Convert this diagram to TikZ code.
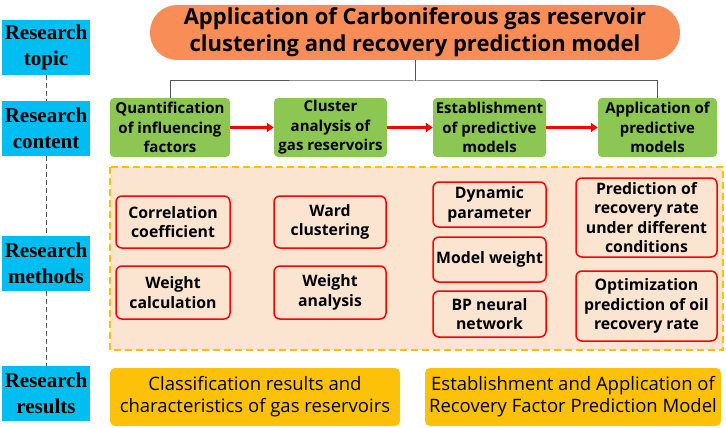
\documentclass[tikz,border=0pt]{standalone}
\usepackage{fontspec}
\setmainfont{Open Sans}
\newfontfamily\sidefont{Liberation Serif}
\usepackage{tikz}
\usetikzlibrary{positioning}
\usetikzlibrary{arrows.meta}

\definecolor{sidecyan}{HTML}{00BEF2}
\definecolor{topicorange}{HTML}{F98D57}
\definecolor{stepgreen}{HTML}{8CC653}
\definecolor{peach}{HTML}{FBE5D0}
\definecolor{gold}{HTML}{FFC000}
\definecolor{resgold}{HTML}{FDC10A}
\definecolor{linegray}{HTML}{555555}

\tikzset{
  side/.style={fill=sidecyan, text=black, align=center, inner sep=0pt,
    font=\sidefont\bfseries\fontsize{21}{26}\selectfont,
    minimum width=88pt, minimum height=55pt},
  topic/.style={fill=topicorange, rounded corners=27pt, align=center,
    font=\bfseries\fontsize{22}{27}\selectfont,
    minimum width=530pt, minimum height=55pt, inner sep=0pt},
  content/.style={fill=stepgreen, rounded corners=4pt, align=center,
    font=\bfseries\fontsize{15}{19.5}\selectfont,
    minimum height=59pt, inner sep=0pt},
  method/.style={draw=red, line width=1.5pt, fill=peach, rounded corners=6pt,
    align=center, font=\bfseries\fontsize{15.8}{19.5}\selectfont, inner sep=0pt},
  result/.style={fill=resgold, rounded corners=5pt, align=center,
    font=\fontsize{18.5}{22}\selectfont, minimum height=58pt, inner sep=0pt},
  flow/.style={red, line width=2.5pt, -{Triangle[length=7pt,width=9pt]}},
  tree/.style={linegray, line width=1pt},
  guide/.style={linegray, line width=1pt, dash pattern=on 5pt off 3pt}
}

\begin{document}
\begin{tikzpicture}[x=1pt,y=-1pt]

    \useasboundingbox (0,0) rectangle (726,428);

    % side labels
    \node[side] (topicL)   at (46,47.5)  {Research\\topic};
    \node[side] (contentL) at (46,128.5) {Research\\content};
    \node[side] (methodL)  at (46,263.5) {Research\\methods};
    \node[side] (resultL)  at (46,393.5) {Research\\results};

    \draw[guide] (topicL) -- (contentL);
    \draw[guide] (contentL) -- (methodL);
    \draw[guide] (methodL) -- (resultL);

    % title
    \node[topic] (title) at (415,32.5)
        {Application of Carboniferous gas reservoir\\clustering and recovery prediction model};

    % research content
    \node[content, minimum width=120pt] (C1) at (170,127.5)   {Quantification\\of influencing\\factors};
    \node[content, minimum width=113pt] (C2) at (330.5,127.5) {Cluster\\analysis of\\gas reservoirs};
    \node[content, minimum width=113pt] (C3) at (489.5,127.5) {Establishment\\of predictive\\models};
    \node[content, minimum width=119pt] (C4) at (657.5,127.5) {Application of\\predictive\\models};

    \coordinate (fork) at (415,81);
    \draw[tree] (title.south) -- (fork);
    \draw[tree] (C1.north) |- (fork) -| (C4.north);

    \draw[flow] (C1) -- (C2);
    \draw[flow] (C2) -- (C3);
    \draw[flow] (C3) -- (C4);

    % research methods
    \draw[gold, fill=peach, line width=2pt, dash pattern=on 7pt off 4pt]
        (110,167) rectangle (723,350);

    \node[method, minimum width=114pt, minimum height=52pt] (M1) at (173,222)   {Correlation\\coefficient};
    \node[method, minimum width=114pt, minimum height=53pt] (M2) at (173,292.5) {Weight\\calculation};
    \node[method, minimum width=112pt, minimum height=52pt] (M3) at (330,222)   {Ward\\clustering};
    \node[method, minimum width=112pt, minimum height=53pt] (M4) at (330,292.5) {Weight\\analysis};
    \node[method, minimum width=113pt, minimum height=45pt] (M5) at (489.5,204.5) {Dynamic\\parameter};
    \node[method, minimum width=113pt, minimum height=45pt] (M6) at (489.5,259.5) {Model weight};
    \node[method, minimum width=113pt, minimum height=46pt] (M7) at (489.5,314)   {BP neural\\network};
    \node[method, minimum width=141pt, minimum height=79pt] (M8) at (646.5,217.5) {Prediction of\\recovery rate\\under different\\conditions};
    \node[method, minimum width=141pt, minimum height=70pt] (M9) at (646.5,306)   {Optimization\\prediction of oil\\recovery rate};

    % research results
    \node[result, minimum width=290pt] (R1) at (255,397)
        {Classification results and\\characteristics of gas reservoirs};
    \node[result, minimum width=296pt] (R2) at (573,397)
        {Establishment and Application of\\Recovery Factor Prediction Model};

\end{tikzpicture}
\end{document}
